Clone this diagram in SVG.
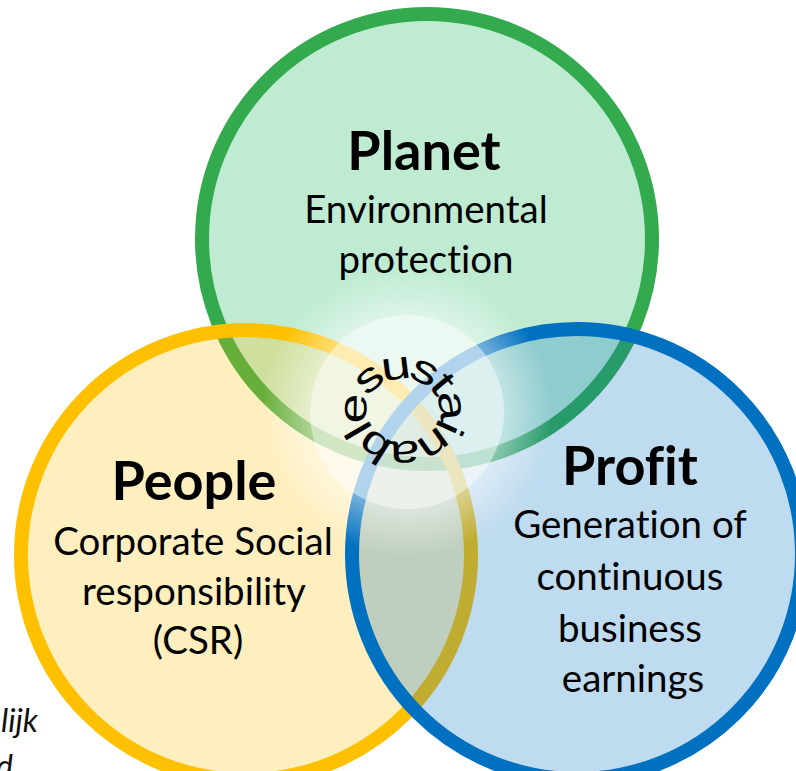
<svg xmlns="http://www.w3.org/2000/svg" width="796" height="771" viewBox="0 0 796 771">
  <style>
    text { font-variant-ligatures: none; }
    .ring { stroke-width: 14; fill-opacity: 0.25; }
    .title { font-family: Lato, "Open Sans", sans-serif; font-weight: bold; font-size: 54px; fill: #000; text-anchor: middle; }
    .sub { font-family: Lato, "Open Sans", sans-serif; font-size: 38.5px; fill: #000; text-anchor: middle; }
    .note { font-family: Lato, "Open Sans", sans-serif; font-style: italic; font-size: 32px; fill: #111; text-anchor: end; }
    .arc { font-family: "Liberation Sans", Arial, sans-serif; font-size: 40px; fill: #000; }
  </style>
  <defs>
    <radialGradient id="glowGrad" gradientUnits="userSpaceOnUse" cx="407" cy="412" r="145">
      <stop offset="0" stop-color="#fff" stop-opacity="0.45"/>
      <stop offset="0.67" stop-color="#fff" stop-opacity="0.45"/>
      <stop offset="1" stop-color="#fff" stop-opacity="0"/>
    </radialGradient>
    <path id="arcPath" d="M361.5,390.3 A47,42 0 0 1 444.5,429.7 A47,42 0 0 1 361.5,390.3"/>
  </defs>
  <rect width="796" height="771" fill="#fff"/>

  <g id="circles">
    <circle id="circle-planet" class="ring" cx="427" cy="239" r="225" fill="#00B050" stroke="#34AA4E"/>
    <circle id="circle-people" class="ring" cx="246" cy="555" r="225" fill="#FFC000" stroke="#FFC000"/>
    <circle id="circle-profit" class="ring" cx="577" cy="554" r="225" fill="#0070C0" stroke="#0070C0"/>
  </g>

  <g id="glow">
    <circle cx="407" cy="412" r="145" fill="url(#glowGrad)"/>
    <circle cx="407" cy="412" r="97" fill="#fff" fill-opacity="0.45"/>
  </g>

  <g id="node-planet">
    <text class="title" x="424" y="170">Planet</text>
    <text class="sub" x="426" y="223">Environmental</text>
    <text class="sub" x="426" y="273">protection</text>
  </g>

  <g id="node-people">
    <text class="title" x="194" y="500">People</text>
    <text class="sub" x="193" y="555">Corporate Social</text>
    <text class="sub" x="194" y="605">responsibility</text>
    <text class="sub" x="198" y="654">(CSR)</text>
  </g>

  <g id="node-profit">
    <text class="title" x="630" y="485">Profit</text>
    <text class="sub" x="630" y="538">Generation of</text>
    <text class="sub" x="630" y="590">continuous</text>
    <text class="sub" x="630" y="642">business</text>
    <text class="sub" x="633" y="692">earnings</text>
  </g>

  <g id="node-sustainable">
    <text class="arc"><textPath href="#arcPath" textLength="272" lengthAdjust="spacingAndGlyphs"><tspan dy="10">sustainable</tspan></textPath></text>
  </g>

  <g id="note">
    <text class="note" x="38" y="732">lijk</text>
    <text class="note" x="13" y="778">d</text>
  </g>
  <g id="connectors"/>
</svg>
